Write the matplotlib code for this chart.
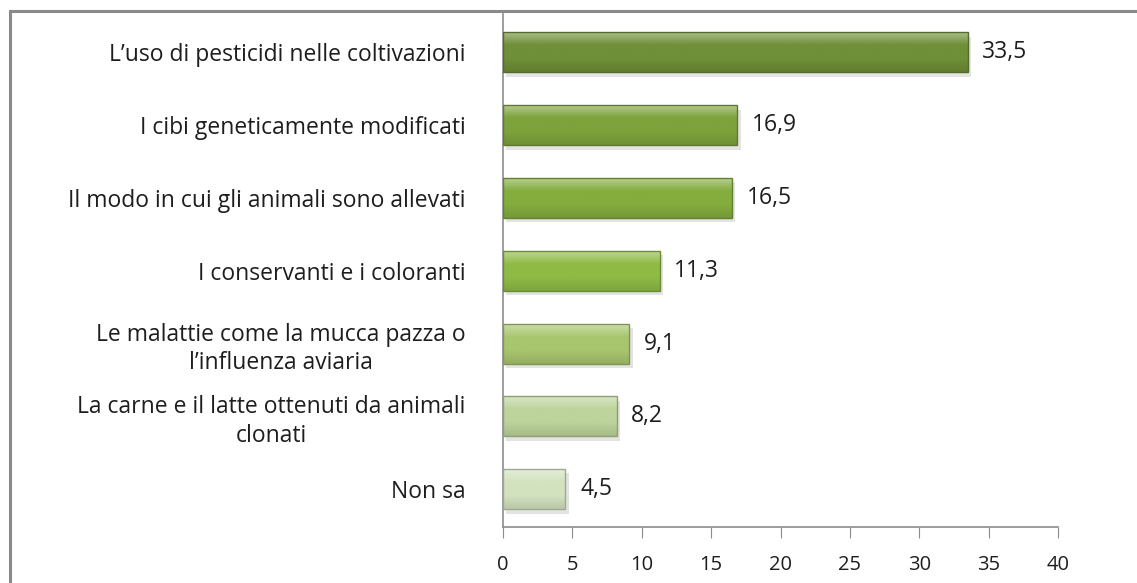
import numpy as np
import matplotlib
matplotlib.use('Agg')
import matplotlib.pyplot as plt
from matplotlib.patches import Rectangle
from matplotlib.colors import LinearSegmentedColormap, to_rgb

# --- dati ---
categories = [
    "L\u2019uso di pesticidi nelle coltivazioni",
    "I cibi geneticamente modificati",
    "Il modo in cui gli animali sono allevati",
    "I conservanti e i coloranti",
    "Le malattie come la mucca pazza o\nl\u2019influenza aviaria",
    "La carne e il latte ottenuti da animali\nclonati",
    "Non sa",
]
values = [33.5, 16.9, 16.5, 11.3, 9.1, 8.2, 4.5]
value_labels = ["33,5", "16,9", "16,5", "11,3", "9,1", "8,2", "4,5"]
bar_colors = ["#6f8f38", "#7ea33c", "#84ad3e", "#8fbb45", "#a8c66e", "#bdd49c", "#d3e2bf"]
xticks = [0, 5, 10, 15, 20, 25, 30, 35, 40]

plt.rcParams['font.family'] = ['Open Sans', 'DejaVu Sans']

W, H = 1137, 583
fig = plt.figure(figsize=(W / 100, H / 100), dpi=100)
ax = fig.add_axes([503 / W, 1 - 527 / H, 555 / W, (527 - 14.5) / H])

y = np.arange(len(categories))
bar_h = 0.55

# ombra leggera
ax.barh(y + 0.06, values, height=bar_h, left=0.25, color='#c8c8c8', alpha=0.5,
        linewidth=0, zorder=1)

bars = ax.barh(y, values, height=bar_h, color=bar_colors, zorder=2)


def lighten(c, f):
    r, g, b = to_rgb(c)
    return (r + (1 - r) * f, g + (1 - g) * f, b + (1 - b) * f)


def darken(c, f):
    r, g, b = to_rgb(c)
    return (r * (1 - f), g * (1 - f), b * (1 - f))


for bar, col in zip(bars, bar_colors):
    # gradiente verticale dentro la barra
    cmap = LinearSegmentedColormap.from_list(
        'g', [lighten(col, 0.45), col, col, darken(col, 0.12)])
    grad = np.linspace(0, 1, 100).reshape(-1, 1)
    x0, y0 = bar.get_x(), bar.get_y()
    w, h = bar.get_width(), bar.get_height()
    im = ax.imshow(grad, cmap=cmap, aspect='auto', extent=[x0, x0 + w, y0 + h, y0],
                   zorder=3, interpolation='bicubic')
    im.set_clip_path(bar)
    bar.set_edgecolor(darken(col, 0.25))
    bar.set_linewidth(1.0)
    bar.set_facecolor('none')
    bar.set_zorder(4)

for yi, v, lab in zip(y, values, value_labels):
    ax.text(v + 1.05, yi, lab, va='center', ha='left', fontsize=16.5, color='#1e1e1e')

ax.set_xlim(0, 40)
ax.set_ylim(len(categories) - 0.5 + 0.02, -0.5 - 0.02)
ax.set_xticks(xticks)
ax.set_xticklabels([str(t) for t in xticks], fontsize=14.5, color='#1e1e1e')
ax.set_yticks(y)
ax.set_yticklabels(categories, fontsize=16.5, color='#1e1e1e',
                   multialignment='center', linespacing=1.25)
ax.tick_params(axis='y', length=0, pad=27)
ax.tick_params(axis='x', length=8, direction='out', color='#8c8c8c', pad=12)

for s in ['top', 'right']:
    ax.spines[s].set_visible(False)
for s in ['left', 'bottom']:
    ax.spines[s].set_color('#8c8c8c')
    ax.spines[s].set_linewidth(1.2)

# cornice esterna
fig.patches.append(Rectangle((9.5 / W, -0.5), 2, 1.5 - 10.5 / H, transform=fig.transFigure,
                             fill=False, edgecolor='#8a8a8a', linewidth=2.2))

fig.savefig('out.png', dpi=100, facecolor='white')
